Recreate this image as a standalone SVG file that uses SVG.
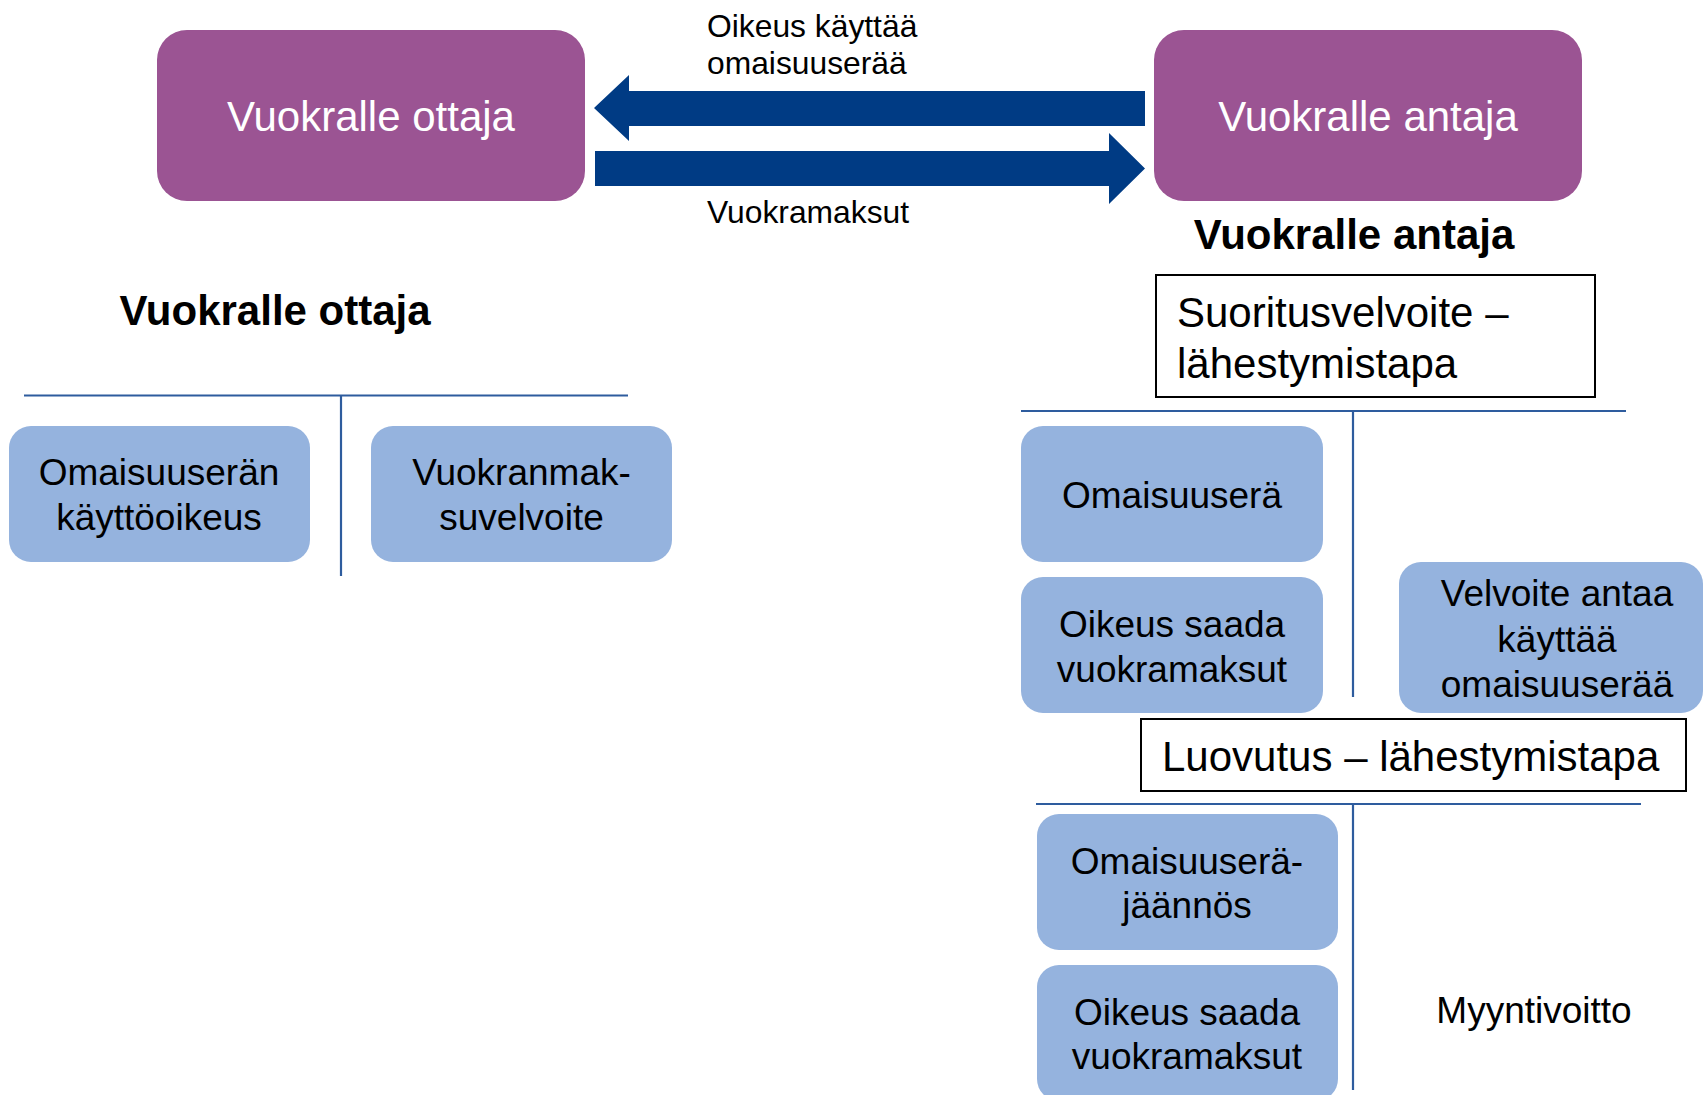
<svg xmlns="http://www.w3.org/2000/svg" width="1704" height="1095" viewBox="0 0 1704 1095">
<style>
text{font-family:"Liberation Sans",Arial,sans-serif;}
.party{fill:#9B5493;}
.pt{fill:#ffffff;font-size:42px;text-anchor:middle;}
.box{fill:#95B3DE;}
.bt{fill:#000;font-size:37px;text-anchor:middle;}
.hd{fill:#000;font-size:42px;font-weight:bold;text-anchor:middle;}
.frame{fill:#fff;stroke:#000;stroke-width:2;}
.ft{fill:#000;font-size:42px;}
.lbl{fill:#000;font-size:31.8px;}
.rule{stroke:#2E5C9E;stroke-width:2.2;fill:none;}
.arrow{fill:#003B84;}
</style>
<rect width="1704" height="1095" fill="#fff"/>
<g id="lessee">
<rect class="party" x="157" y="30" width="428" height="171" rx="30"/>
<text class="pt" x="371" y="131">Vuokralle ottaja</text>
</g>
<g id="lessor">
<rect class="party" x="1154" y="30" width="428" height="171" rx="30"/>
<text class="pt" x="1368" y="131">Vuokralle antaja</text>
</g>
<g id="connectors">
<polygon class="arrow" points="594,108 629,75 629,91 1145,91 1145,126 629,126 629,141"/>
<polygon class="arrow" points="595,151 1109,151 1109,133 1145,168.5 1109,204 1109,186 595,186"/>
<text class="lbl" x="707" y="37">Oikeus käyttää</text>
<text class="lbl" x="707" y="74">omaisuuserää</text>
<text class="lbl" x="707" y="223">Vuokramaksut</text>
<line class="rule" x1="24" y1="395.5" x2="628" y2="395.5"/>
<line class="rule" x1="341" y1="395.5" x2="341" y2="576"/>
<line class="rule" x1="1021" y1="411" x2="1626" y2="411"/>
<line class="rule" x1="1353" y1="411" x2="1353" y2="697"/>
<line class="rule" x1="1036" y1="804" x2="1641" y2="804"/>
<line class="rule" x1="1353" y1="804" x2="1353" y2="1090"/>
</g>
<g id="lessee-heading"><text class="hd" x="275" y="325">Vuokralle ottaja</text></g>
<g id="lessor-heading"><text class="hd" x="1354" y="249">Vuokralle antaja</text></g>
<g id="left-asset">
<rect class="box" x="9" y="426" width="301" height="136" rx="22"/>
<text class="bt" x="159" y="485">Omaisuuserän</text>
<text class="bt" x="159" y="530">käyttöoikeus</text>
</g>
<g id="left-liability">
<rect class="box" x="371" y="426" width="301" height="136" rx="22"/>
<text class="bt" x="521.5" y="485">Vuokranmak-</text>
<text class="bt" x="521.5" y="530">suvelvoite</text>
</g>
<g id="performance-approach">
<rect class="frame" x="1156" y="275" width="439" height="122"/>
<text class="ft" x="1177" y="327">Suoritusvelvoite –</text>
<text class="ft" x="1177" y="378">lähestymistapa</text>
</g>
<g id="asset">
<rect class="box" x="1021" y="426" width="302" height="136" rx="22"/>
<text class="bt" x="1172" y="508">Omaisuuserä</text>
</g>
<g id="receivable1">
<rect class="box" x="1021" y="577" width="302" height="136" rx="22"/>
<text class="bt" x="1172" y="637">Oikeus saada</text>
<text class="bt" x="1172" y="682">vuokramaksut</text>
</g>
<g id="obligation">
<rect class="box" x="1399" y="562" width="304" height="151" rx="22"/>
<text class="bt" x="1557" y="606">Velvoite antaa</text>
<text class="bt" x="1557" y="652">käyttää</text>
<text class="bt" x="1557" y="697">omaisuuserää</text>
</g>
<g id="transfer-approach">
<rect class="frame" x="1141" y="719" width="545" height="72"/>
<text class="ft" x="1162" y="771">Luovutus – lähestymistapa</text>
</g>
<g id="residual">
<rect class="box" x="1037" y="814" width="301" height="136" rx="22"/>
<text class="bt" x="1187" y="874">Omaisuuserä-</text>
<text class="bt" x="1187" y="918">jäännös</text>
</g>
<g id="receivable2">
<rect class="box" x="1037" y="965" width="301" height="136" rx="22"/>
<text class="bt" x="1187" y="1025">Oikeus saada</text>
<text class="bt" x="1187" y="1069">vuokramaksut</text>
</g>
<g id="gain"><text class="bt" x="1534" y="1023">Myyntivoitto</text></g>
</svg>
